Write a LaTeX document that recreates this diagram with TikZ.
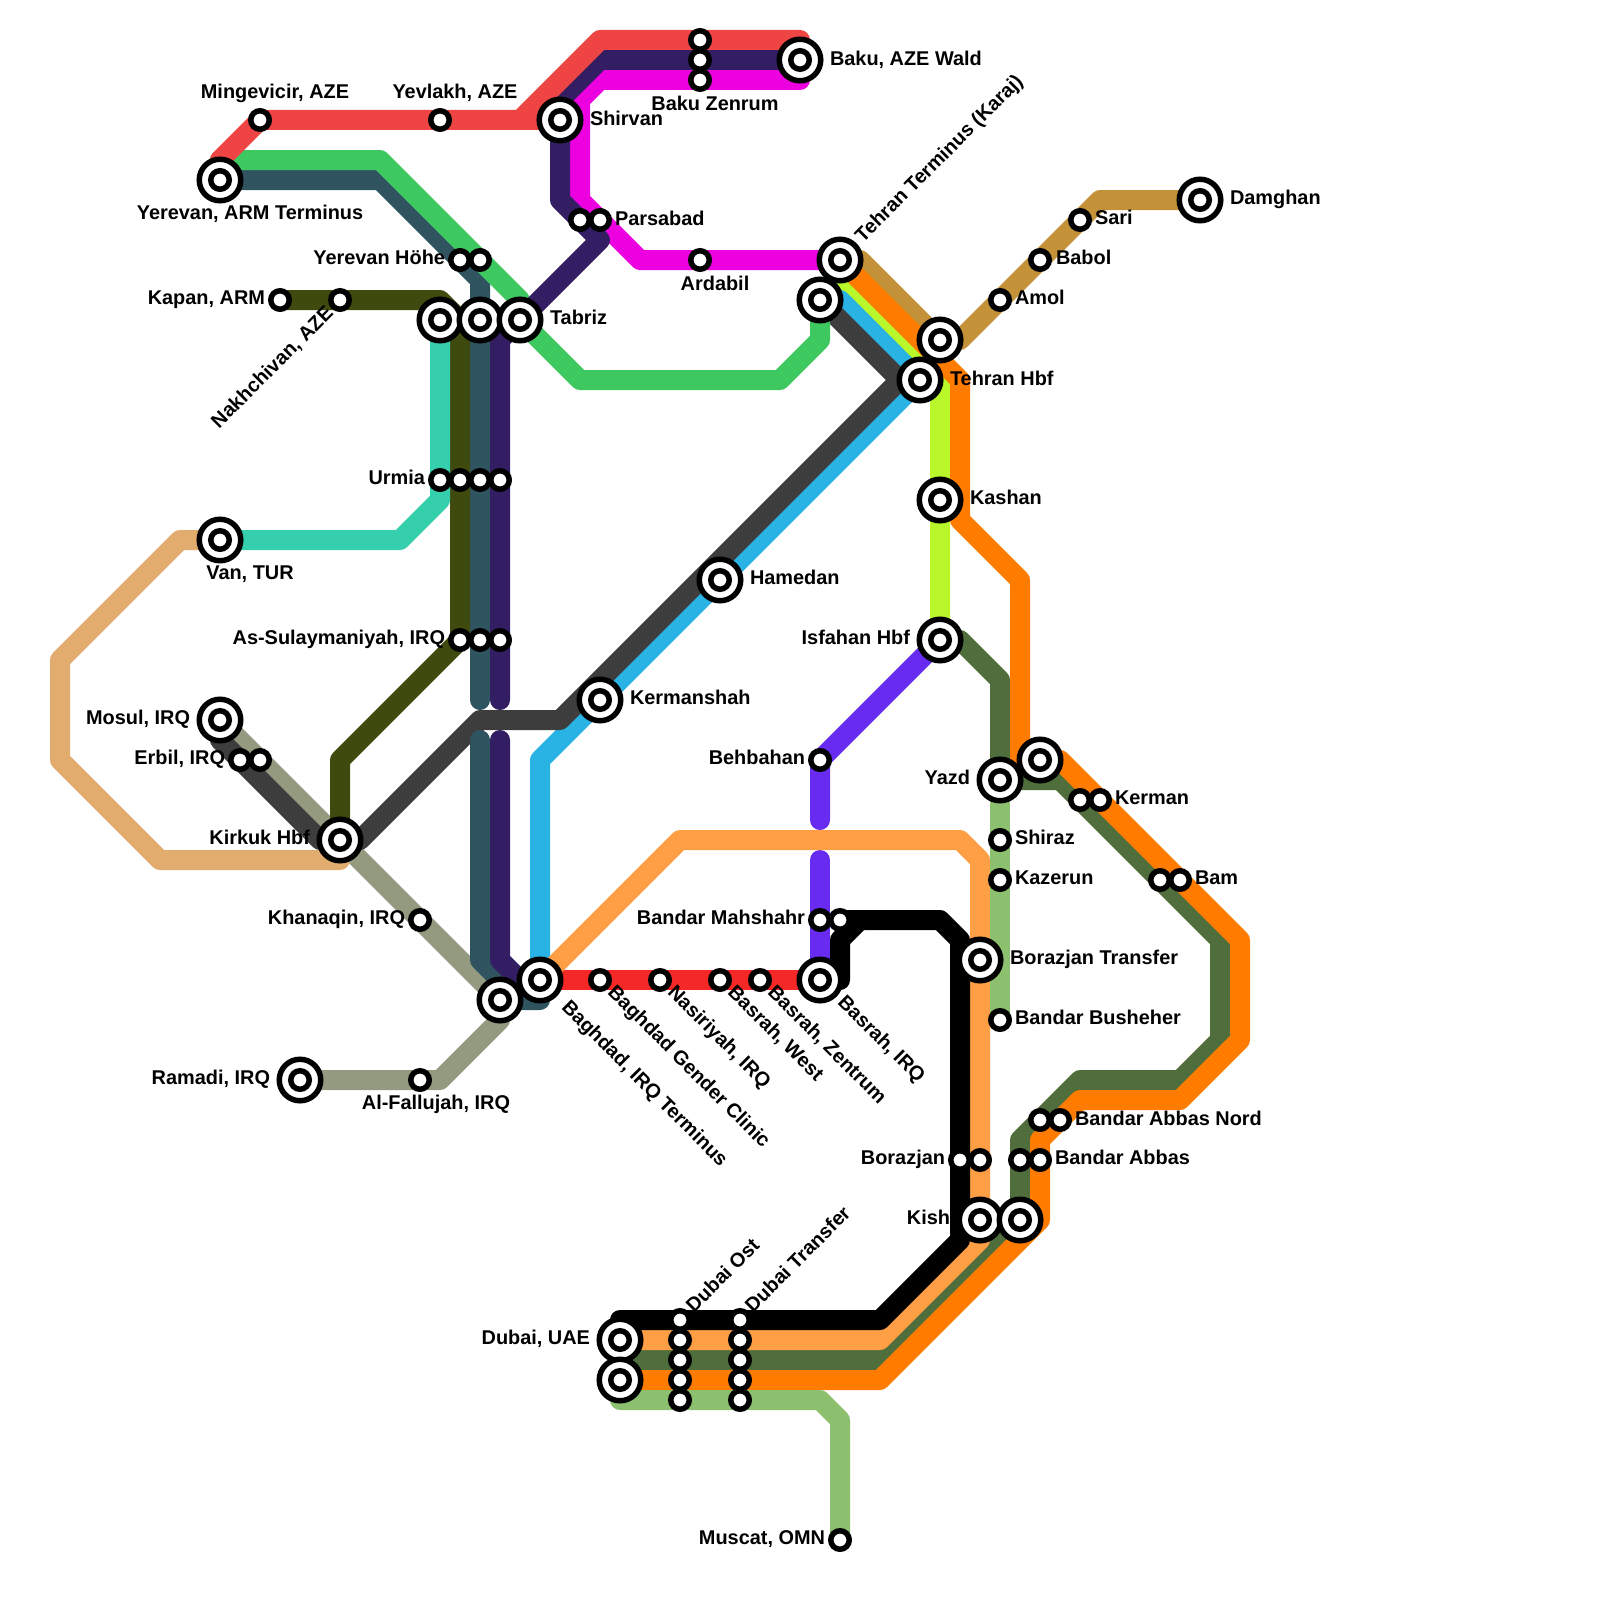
\documentclass[tikz,border=0pt]{standalone}
\usepackage{fontspec}
\setmainfont{Liberation Sans}
\usetikzlibrary{backgrounds}
\definecolor{cred}{HTML}{EF4444}
\definecolor{cpurple}{HTML}{331E63}
\definecolor{cmagenta}{HTML}{EC00E0}
\definecolor{cgreen}{HTML}{3EC860}
\definecolor{cteal}{HTML}{2F5460}
\definecolor{colive}{HTML}{3F4A0E}
\definecolor{cmint}{HTML}{35CFAD}
\definecolor{ctan}{HTML}{E2AC6F}
\definecolor{cgrey}{HTML}{949A7F}
\definecolor{cdark}{HTML}{3D3D3D}
\definecolor{cblue}{HTML}{29B2E4}
\definecolor{clime}{HTML}{B9F72A}
\definecolor{corange}{HTML}{FF7C00}
\definecolor{cltorange}{HTML}{FF9F45}
\definecolor{cdkgreen}{HTML}{4F6E3C}
\definecolor{cltgreen}{HTML}{8CC06F}
\definecolor{cviolet}{HTML}{682BF0}
\definecolor{cbright}{HTML}{F52828}
\definecolor{cbrown}{HTML}{C29138}
\tikzset{
  x=1pt,y=-1pt,
  metro/.style={line width=20pt,line cap=round,line join=round},
  ic/.style={circle,draw=black,fill=white,line width=5.5pt,minimum size=41.5pt,inner sep=0pt,outer sep=0pt,
    label={[circle,draw=black,fill=white,line width=5.5pt,minimum size=18.5pt,inner sep=0pt,outer sep=0pt]center:{}}},
  st/.style={circle,draw=black,fill=white,line width=5.5pt,minimum size=18.5pt,inner sep=0pt,outer sep=0pt},
  lb/.style={font=\bfseries\fontsize{19.9}{20}\selectfont,text=black,inner sep=0pt,outer sep=0pt,text height=13pt,text depth=4pt},
  lr/.style={lb,anchor=west,yshift=-1.5pt},
  ll/.style={lb,anchor=east,yshift=-1.5pt},
  lc/.style={lb,anchor=center,yshift=-1.5pt},
  lup/.style={lb,anchor=west,rotate=45},
  lupe/.style={lb,anchor=east,rotate=45},
  ldn/.style={lb,anchor=west,rotate=-45},
}
\begin{document}
\begin{tikzpicture}
\useasboundingbox (0,0) rectangle (1600,1600);
% interchange stations
\node[ic] (yerevan) at (220,180) {};
\node[ic] (shirvan) at (560,120) {};
\node[ic] (baku) at (800,60) {};
\node[ic] (pa) at (440,320) {};
\node[ic] (pb) at (480,320) {};
\node[ic] (tabriz) at (520,320) {};
\node[ic] (tehranT) at (840,260) {};
\node[ic] (tehranL) at (820,300) {};
\node[ic] (tehranU) at (940,340) {};
\node[ic] (tehranH) at (920,380) {};
\node[ic] (kashan) at (940,500) {};
\node[ic] (van) at (220,540) {};
\node[ic] (hamedan) at (720,580) {};
\node[ic] (isfahan) at (940,640) {};
\node[ic] (kermanshah) at (600,700) {};
\node[ic] (mosul) at (220,720) {};
\node[ic] (kirkuk) at (340,840) {};
\node[ic] (yazd) at (1000,780) {};
\node[ic] (yazdB) at (1040,760) {};
\node[ic] (boraT) at (980,960) {};
\node[ic] (baghdad) at (540,980) {};
\node[ic] (baghdadB) at (500,1000) {};
\node[ic] (basrah) at (820,980) {};
\node[ic] (ramadi) at (300,1080) {};
\node[ic] (kish) at (980,1220) {};
\node[ic] (kishB) at (1020,1220) {};
\node[ic] (dubai) at (620,1340) {};
\node[ic] (dubaiB) at (620,1380) {};
\node[ic] (damghan) at (1200,200) {};
% small stations
\node[st] (ming) at (260,120) {};
\node[st] (yev) at (440,120) {};
\node[st] (bz1) at (700,40) {};
\node[st] (bz2) at (700,60) {};
\node[st] (bz3) at (700,80) {};
\node[st] (pars1) at (580,220) {};
\node[st] (pars2) at (600,220) {};
\node[st] (yh1) at (460,260) {};
\node[st] (yh2) at (480,260) {};
\node[st] (kapan) at (280,300) {};
\node[st] (nakh) at (340,300) {};
\node[st] (ur1) at (440,480) {};
\node[st] (ur2) at (460,480) {};
\node[st] (ur3) at (480,480) {};
\node[st] (ur4) at (500,480) {};
\node[st] (as1) at (460,640) {};
\node[st] (as2) at (480,640) {};
\node[st] (as3) at (500,640) {};
\node[st] (ardabil) at (700,260) {};
\node[st] (amol) at (1000,300) {};
\node[st] (babol) at (1040,260) {};
\node[st] (sari) at (1080,220) {};
\node[st] (erb1) at (240,760) {};
\node[st] (erb2) at (260,760) {};
\node[st] (behb) at (820,760) {};
\node[st] (ker1) at (1080,800) {};
\node[st] (ker2) at (1100,800) {};
\node[st] (shiraz) at (1000,840) {};
\node[st] (kazerun) at (1000,880) {};
\node[st] (bam1) at (1160,880) {};
\node[st] (bam2) at (1180,880) {};
\node[st] (bm1) at (820,920) {};
\node[st] (bm2) at (840,920) {};
\node[st] (khan) at (420,920) {};
\node[st] (fall) at (420,1080) {};
\node[st] (bgc) at (600,980) {};
\node[st] (nas) at (660,980) {};
\node[st] (bw) at (720,980) {};
\node[st] (bzen) at (760,980) {};
\node[st] (bush) at (1000,1020) {};
\node[st] (ban1) at (1040,1120) {};
\node[st] (ban2) at (1060,1120) {};
\node[st] (bor1) at (960,1160) {};
\node[st] (bor2) at (980,1160) {};
\node[st] (ba1) at (1020,1160) {};
\node[st] (ba2) at (1040,1160) {};
\node[st] (do1) at (680,1320) {};
\node[st] (do2) at (680,1340) {};
\node[st] (do3) at (680,1360) {};
\node[st] (do4) at (680,1380) {};
\node[st] (do5) at (680,1400) {};
\node[st] (dt1) at (740,1320) {};
\node[st] (dt2) at (740,1340) {};
\node[st] (dt3) at (740,1360) {};
\node[st] (dt4) at (740,1380) {};
\node[st] (dt5) at (740,1400) {};
\node[st] (muscat) at (840,1540) {};
% bends
\coordinate (r1) at (220,160); \coordinate (r2) at (520,120); \coordinate (r3) at (600,40); \coordinate (r4) at (800,40);
\coordinate (u1) at (600,60); \coordinate (u2) at (560,100); \coordinate (u3) at (560,200); \coordinate (u4) at (600,240); \coordinate (u5) at (500,340); \coordinate (u6) at (500,700); \coordinate (u7) at (500,740); \coordinate (u8) at (500,960); \coordinate (u9) at (520,980);
\coordinate (m1) at (800,80); \coordinate (m2) at (600,80); \coordinate (m3) at (580,100); \coordinate (m4) at (580,200); \coordinate (m5) at (640,260);
\coordinate (g1) at (380,160); \coordinate (g2) at (520,300); \coordinate (g3) at (580,380); \coordinate (g4) at (780,380); \coordinate (g5) at (820,340);
\coordinate (t1) at (380,180); \coordinate (t2) at (480,280); \coordinate (t3) at (480,700); \coordinate (t4) at (480,740); \coordinate (t5) at (480,960); \coordinate (t6) at (520,1000); \coordinate (t7) at (540,1000);
\coordinate (o1) at (440,300); \coordinate (o2) at (460,320); \coordinate (o3) at (340,760);
\coordinate (n1) at (440,500); \coordinate (n2) at (400,540);
\coordinate (a1) at (180,540); \coordinate (a2) at (60,660); \coordinate (a3) at (60,760); \coordinate (a4) at (160,860); \coordinate (a5) at (340,860);
\coordinate (y0) at (500,1020); \coordinate (y1) at (440,1080);
\coordinate (d1) at (220,740); \coordinate (d2) at (320,840); \coordinate (d3) at (360,840); \coordinate (d4) at (480,720); \coordinate (d5) at (560,720); \coordinate (d6) at (900,380);
\coordinate (c1) at (840,300); \coordinate (c2) at (540,760);
\coordinate (l1) at (840,280); \coordinate (l2) at (940,380);
\coordinate (f1) at (960,380); \coordinate (f2) at (960,520); \coordinate (f3) at (1020,580); \coordinate (f4) at (1020,760); \coordinate (f5) at (1060,760); \coordinate (f6) at (1240,940); \coordinate (f7) at (1240,1040); \coordinate (f8) at (1180,1100); \coordinate (f9) at (1080,1100); \coordinate (f10) at (1040,1140); \coordinate (f11) at (1040,1220); \coordinate (f12) at (880,1380);
\coordinate (b1) at (860,260); \coordinate (b2) at (960,340); \coordinate (b3) at (1100,200);
\coordinate (k1) at (960,640); \coordinate (k2) at (1000,680); \coordinate (k3) at (1060,780); \coordinate (k4) at (1220,940); \coordinate (k5) at (1220,1040); \coordinate (k6) at (1180,1080); \coordinate (k7) at (1080,1080); \coordinate (k8) at (1020,1140); \coordinate (k9) at (880,1360); \coordinate (k10) at (620,1360);
\coordinate (h1) at (680,840); \coordinate (h2) at (960,840); \coordinate (h3) at (980,860); \coordinate (h4) at (980,1240); \coordinate (h5) at (880,1340);
\coordinate (q1) at (940,920); \coordinate (q2) at (960,940); \coordinate (q3) at (960,1240); \coordinate (q4) at (880,1320); \coordinate (q5) at (620,1320); \coordinate (q6) at (860,920); \coordinate (q7) at (840,940); \coordinate (q8) at (840,980);
\coordinate (e1) at (620,1400); \coordinate (e2) at (820,1400); \coordinate (e3) at (840,1420);
\coordinate (v1) at (820,820); \coordinate (v2) at (820,860);
\begin{scope}[on background layer]
\draw[metro,clime] (tehranT.center)--(l1)--(l2)--(isfahan.center);
\draw[metro,cblue] (baghdad.center)--(c2)--(tehranH.center)--(c1)--(tehranL.center);
\draw[metro,cgrey] (mosul.center)--(baghdadB.center)--(y0)--(y1)--(ramadi.center);
\draw[metro,cdark] (mosul.center)--(d1)--(d2)--(kirkuk.center)--(d3)--(d4)--(d5)--(d6)--(tehranL.center);
\draw[metro,cdark] (d6)--(tehranH.center);
\draw[metro,cbrown] (tehranT.center)--(b1)--(tehranU.center)--(b2)--(b3)--(damghan.center);
\draw[metro,cdkgreen] (isfahan.center)--(k1)--(k2)--(yazd.center)--(k3)--(k4)--(k5)--(k6)--(k7)--(k8)--(kishB.center)--(k9)--(k10);
\draw[metro,corange] (tehranT.center)--(f1)--(f2)--(f3)--(f4)--(yazdB.center)--(f5)--(f6)--(f7)--(f8)--(f9)--(f10)--(f11)--(f12)--(dubaiB.center);
\draw[metro,cmagenta] (baku.center)--(m1)--(m2)--(m3)--(m4)--(m5)--(tehranT.center);
\draw[metro,cteal] (yerevan.center)--(t1)--(t2)--(t3);
\draw[metro,cteal] (t4)--(t5)--(t6)--(t7)--(baghdad.center);
\draw[metro,cgreen] (yerevan.center)--(r1)--(g1)--(g2)--(tabriz.center)--(g3)--(g4)--(g5)--(tehranL.center);
\draw[metro,cpurple] (baku.center)--(u1)--(u2)--(u3)--(u4)--(tabriz.center)--(u5)--(u6);
\draw[metro,cpurple] (u7)--(u8)--(u9)--(baghdad.center);
\draw[metro,cred] (yerevan.center)--(r1)--(ming.center)--(r2)--(shirvan.center)--(r2)--(r3)--(r4)--(baku.center);
\draw[metro,colive] (kapan.center)--(o1)--(o2)--(as1.center)--(o3)--(kirkuk.center);
\draw[metro,cmint] (pa.center)--(n1)--(n2)--(van.center);
\draw[metro,ctan] (van.center)--(a1)--(a2)--(a3)--(a4)--(a5)--(kirkuk.center);
\draw[metro,cviolet] (isfahan.center)--(behb.center)--(v1);
\draw[metro,cviolet] (v2)--(basrah.center);
\draw[metro,cbright] (baghdad.center)--(basrah.center);
\draw[metro,cltorange] (baghdad.center)--(h1)--(h2)--(h3)--(h4)--(h5)--(dubai.center);
\draw[metro,black] (bm2.center)--(q1)--(q2)--(q3)--(q4)--(q5)--(dubai.center);
\draw[metro,black] (q6)--(q7)--(q8)--(basrah.center);
\draw[metro,cltgreen] (yazd.center)--(bush.center);
\draw[metro,cltgreen] (dubaiB.center)--(e1)--(e2)--(e3)--(muscat.center);
\end{scope}
% labels
\node[lc] (L1) at (275,93) {Mingevicir, AZE};
\node[lc] (L2) at (455,93) {Yevlakh, AZE};
\node[lr] (L3) at (590,120) {Shirvan};
\node[lr] (L4) at (830,60) {Baku, AZE Wald};
\node[lc] (L5) at (715,105) {Baku Zenrum};
\node[lr] (L6) at (615,219) {Parsabad};
\node[lup] (L7) at (860,240) {Tehran Terminus (Karaj)};
\node[lc] (L8) at (715,284) {Ardabil};
\node[lc] (L9) at (250,213) {Yerevan, ARM Terminus};
\node[ll] (L10) at (445,258) {Yerevan Höhe};
\node[ll] (L11) at (265,298) {Kapan, ARM};
\node[lupe] (L12) at (331,311) {Nakhchivan, AZE};
\node[lr] (L13) at (550,318) {Tabriz};
\node[lr] (L14) at (950,379) {Tehran Hbf};
\node[lr] (L15) at (1015,298) {Amol};
\node[lr] (L16) at (1056,258) {Babol};
\node[lr] (L17) at (1095,218) {Sari};
\node[lr] (L18) at (1230,198) {Damghan};
\node[ll] (L19) at (425,478) {Urmia};
\node[lr] (L20) at (970,498) {Kashan};
\node[lc] (L21) at (250,573) {Van, TUR};
\node[lr] (L22) at (750,578) {Hamedan};
\node[ll] (L23) at (910,638) {Isfahan Hbf};
\node[ll] (L24) at (445,638) {As-Sulaymaniyah, IRQ};
\node[lr] (L25) at (630,698) {Kermanshah};
\node[ll] (L26) at (190,718) {Mosul, IRQ};
\node[ll] (L27) at (225,758) {Erbil, IRQ};
\node[ll] (L28) at (805,758) {Behbahan};
\node[ll] (L29) at (970,778) {Yazd};
\node[lr] (L30) at (1115,798) {Kerman};
\node[ll] (L31) at (310,838) {Kirkuk Hbf};
\node[lr] (L32) at (1015,838) {Shiraz};
\node[lr] (L33) at (1015,878) {Kazerun};
\node[lr] (L34) at (1195,878) {Bam};
\node[ll] (L35) at (405,918) {Khanaqin, IRQ};
\node[ll] (L36) at (805,918) {Bandar Mahshahr};
\node[lr] (L37) at (1010,958) {Borazjan Transfer};
\node[lr] (L38) at (1015,1018) {Bandar Busheher};
\node[ll] (L39) at (270,1078) {Ramadi, IRQ};
\node[lc] (L40) at (436,1103) {Al-Fallujah, IRQ};
\node[lr] (L41) at (1075,1119) {Bandar Abbas Nord};
\node[ll] (L42) at (945,1158) {Borazjan};
\node[lr] (L43) at (1055,1158) {Bandar Abbas};
\node[ll] (L44) at (950,1218) {Kish};
\node[ll] (L45) at (590,1338) {Dubai, UAE};
\node[ll] (L46) at (825,1538) {Muscat, OMN};
\node[ldn] (L47) at (564,1005) {Baghdad, IRQ Terminus};
\node[ldn] (L48) at (610,990) {Baghdad Gender Clinic};
\node[ldn] (L49) at (670,990) {Nasiriyah, IRQ};
\node[ldn] (L50) at (730,990) {Basrah, West};
\node[ldn] (L51) at (770,990) {Basrah, Zentrum};
\node[ldn] (L52) at (840,1000) {Basrah, IRQ};
\node[lup] (L53) at (691,1310) {Dubai Ost};
\node[lup] (L54) at (750,1310) {Dubai Transfer};
\end{tikzpicture}
\end{document}
